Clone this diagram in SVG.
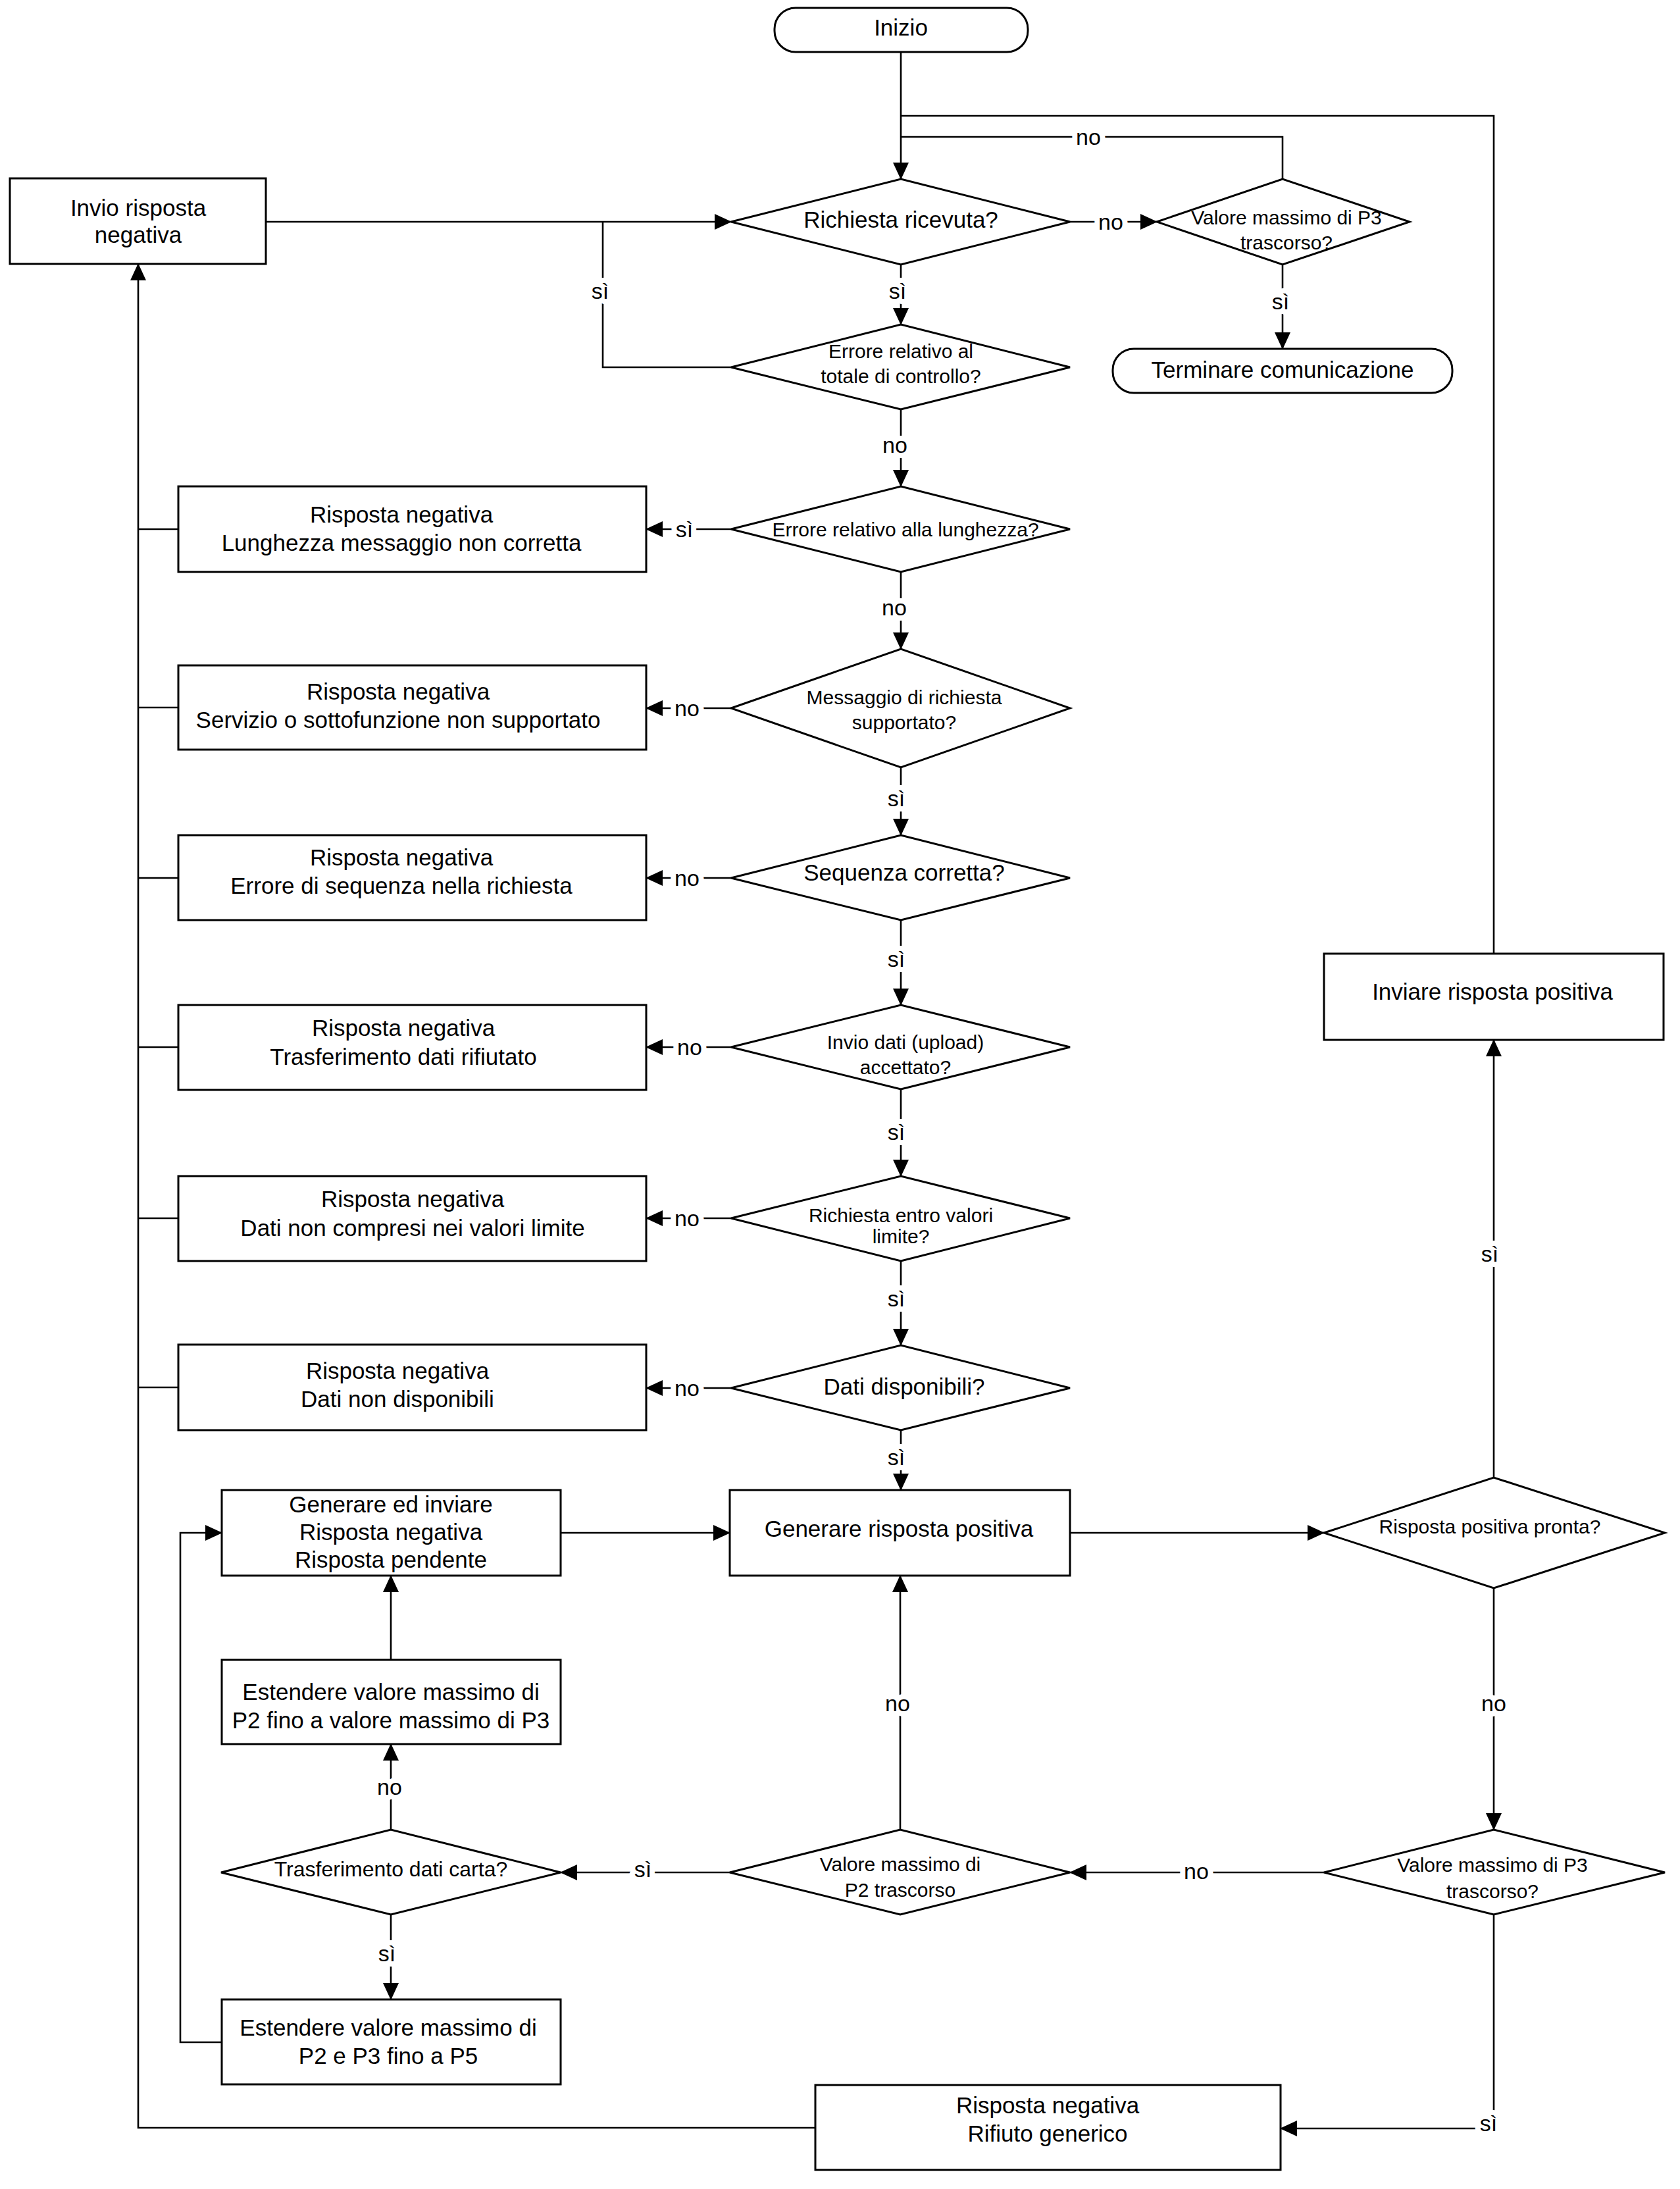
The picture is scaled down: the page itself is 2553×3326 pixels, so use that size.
<svg xmlns="http://www.w3.org/2000/svg" width="2553" height="3326" viewBox="0 0 2553 3326">
<defs>
<marker id="ah" markerUnits="userSpaceOnUse" markerWidth="26" markerHeight="24" refX="25" refY="12" orient="auto"><path d="M0,0 L26,12 L0,24 z" fill="#000"/></marker>
<style>
.box{fill:#fff;stroke:#000;stroke-width:3}
.ln{fill:none;stroke:#000;stroke-width:2.6}
.ar{marker-end:url(#ah)}
.t{font-family:"Liberation Sans",Arial,sans-serif;font-size:35px;text-anchor:middle;dominant-baseline:central;fill:#000}
.s{font-size:30px}
.lb{font-family:"Liberation Sans",Arial,sans-serif;font-size:34px;text-anchor:middle;dominant-baseline:central;fill:#000;stroke:#fff;stroke-width:16px;paint-order:stroke;stroke-linejoin:round}
</style>
</defs>
<rect width="2553" height="3326" fill="#fff"/>
<g id="start"><rect class="box" x="1177" y="12" width="385" height="67" rx="32"/><text class="t" x="1369" y="41">Inizio</text></g>
<g id="invio"><rect class="box" x="15" y="271" width="389" height="130"/><text class="t" x="210" y="315">Invio risposta</text><text class="t" x="210" y="356">negativa</text></g>
<g id="d_ric"><polygon class="box" points="1111,337 1369,272 1626,337 1369,402"/><text class="t" x="1369" y="333">Richiesta ricevuta?</text></g>
<g id="d_p3"><polygon class="box" points="1758,337 1949,272 2142,337 1949,402"/><text class="t s" x="1955" y="330">Valore massimo di P3</text><text class="t s" x="1955" y="368">trascorso?</text></g>
<g id="term"><rect class="box" x="1691" y="530" width="516" height="67" rx="32"/><text class="t" x="1949" y="561">Terminare comunicazione</text></g>
<g id="d_tot"><polygon class="box" points="1111,558 1369,493 1626,558 1369,622"/><text class="t s" x="1369" y="533">Errore relativo al</text><text class="t s" x="1369" y="571">totale di controllo?</text></g>
<g id="d_len"><polygon class="box" points="1111,804 1369,739 1626,804 1369,869"/><text class="t s" x="1376" y="804">Errore relativo alla lunghezza?</text></g>
<g id="b_len"><rect class="box" x="271" y="739" width="711" height="130"/><text class="t" x="610" y="781">Risposta negativa</text><text class="t" x="610" y="824">Lunghezza messaggio non corretta</text></g>
<g id="d_msg"><polygon class="box" points="1111,1076 1369,986 1626,1076 1369,1166"/><text class="t s" x="1374" y="1059">Messaggio di richiesta</text><text class="t s" x="1374" y="1097">supportato?</text></g>
<g id="b_serv"><rect class="box" x="271" y="1011" width="711" height="128"/><text class="t" x="605" y="1050">Risposta negativa</text><text class="t" x="605" y="1093">Servizio o sottofunzione non supportato</text></g>
<g id="d_seq"><polygon class="box" points="1111,1334 1369,1269 1626,1334 1369,1398"/><text class="t" x="1374" y="1325">Sequenza corretta?</text></g>
<g id="b_seq"><rect class="box" x="271" y="1269" width="711" height="129"/><text class="t" x="610" y="1302">Risposta negativa</text><text class="t" x="610" y="1345">Errore di sequenza nella richiesta</text></g>
<g id="d_inv"><polygon class="box" points="1111,1591 1369,1527 1626,1591 1369,1655"/><text class="t s" x="1376" y="1583">Invio dati (upload)</text><text class="t s" x="1376" y="1621">accettato?</text></g>
<g id="b_tra"><rect class="box" x="271" y="1527" width="711" height="129"/><text class="t" x="613" y="1561">Risposta negativa</text><text class="t" x="613" y="1605">Trasferimento dati rifiutato</text></g>
<g id="d_lim"><polygon class="box" points="1111,1851 1369,1787 1626,1851 1369,1916"/><text class="t s" x="1369" y="1846">Richiesta entro valori</text><text class="t s" x="1369" y="1878">limite?</text></g>
<g id="b_lim"><rect class="box" x="271" y="1787" width="711" height="129"/><text class="t" x="627" y="1821">Risposta negativa</text><text class="t" x="627" y="1865">Dati non compresi nei valori limite</text></g>
<g id="d_disp"><polygon class="box" points="1111,2109 1369,2044 1626,2109 1369,2173"/><text class="t" x="1374" y="2106">Dati disponibili?</text></g>
<g id="b_disp"><rect class="box" x="271" y="2043" width="711" height="130"/><text class="t" x="604" y="2082">Risposta negativa</text><text class="t" x="604" y="2125">Dati non disponibili</text></g>
<g id="gen_neg"><rect class="box" x="337" y="2264" width="515" height="130"/><text class="t" x="594" y="2285">Generare ed inviare</text><text class="t" x="594" y="2327">Risposta negativa</text><text class="t" x="594" y="2369">Risposta pendente</text></g>
<g id="gen_pos"><rect class="box" x="1109" y="2264" width="517" height="130"/><text class="t" x="1366" y="2322">Generare risposta positiva</text></g>
<g id="d_pron"><polygon class="box" points="2012,2329 2270,2245 2530,2329 2270,2413"/><text class="t s" x="2264" y="2319">Risposta positiva pronta?</text></g>
<g id="inviare"><rect class="box" x="2012" y="1449" width="516" height="131"/><text class="t" x="2268" y="1506">Inviare risposta positiva</text></g>
<g id="est1"><rect class="box" x="337" y="2522" width="515" height="128"/><text class="t" x="594" y="2570">Estendere valore massimo di</text><text class="t" x="594" y="2613">P2 fino a valore massimo di P3</text></g>
<g id="d_car"><polygon class="box" points="336,2845 594,2780 852,2845 594,2909"/><text class="t" style="font-size:32px" x="594" y="2840">Trasferimento dati carta?</text></g>
<g id="est2"><rect class="box" x="337" y="3038" width="515" height="129"/><text class="t" x="590" y="3080">Estendere valore massimo di</text><text class="t" x="590" y="3123">P2 e P3 fino a P5</text></g>
<g id="d_p2"><polygon class="box" points="1109,2845 1368,2780 1626,2845 1368,2909"/><text class="t s" x="1368" y="2832">Valore massimo di</text><text class="t s" x="1368" y="2871">P2 trascorso</text></g>
<g id="d_p3b"><polygon class="box" points="2012,2845 2270,2780 2530,2845 2270,2909"/><text class="t s" x="2268" y="2833">Valore massimo di P3</text><text class="t s" x="2268" y="2873">trascorso?</text></g>
<g id="rifiuto"><rect class="box" x="1239" y="3168" width="707" height="129"/><text class="t" x="1592" y="3198">Risposta negativa</text><text class="t" x="1592" y="3241">Rifiuto generico</text></g>
<g id="connectors">
<path class="ln ar" d="M1369,79 V272"/>
<path class="ln ar" d="M404,337 H1111"/>
<path class="ln" d="M1111,558 H916 V337"/>
<path class="ln ar" d="M1369,402 V493"/>
<path class="ln ar" d="M1626,337 H1758"/>
<path class="ln" d="M1949,272 V208 H1369"/>
<path class="ln ar" d="M1949,402 V530"/>
<path class="ln ar" d="M1369,622 V739"/>
<path class="ln ar" d="M1111,804 H982"/>
<path class="ln ar" d="M1369,869 V986"/>
<path class="ln ar" d="M1111,1076 H982"/>
<path class="ln ar" d="M1369,1166 V1269"/>
<path class="ln ar" d="M1111,1334 H982"/>
<path class="ln ar" d="M1369,1398 V1527"/>
<path class="ln ar" d="M1111,1591 H982"/>
<path class="ln ar" d="M1369,1655 V1787"/>
<path class="ln ar" d="M1111,1851 H982"/>
<path class="ln ar" d="M1369,1916 V2044"/>
<path class="ln ar" d="M1111,2109 H982"/>
<path class="ln ar" d="M1369,2173 V2264"/>
<path class="ln" d="M210,804 H271 M210,1075 H271 M210,1334 H271 M210,1591 H271 M210,1851 H271 M210,2108 H271"/>
<path class="ln ar" d="M1239,3233 H210 V401"/>
<path class="ln ar" d="M852,2329 H1109"/>
<path class="ln ar" d="M1626,2329 H2012"/>
<path class="ln ar" d="M2270,2245 V1580"/>
<path class="ln" d="M2270,1449 V176 H1369"/>
<path class="ln ar" d="M2270,2413 V2780"/>
<path class="ln ar" d="M2012,2845 H1626"/>
<path class="ln ar" d="M1368,2780 V2394"/>
<path class="ln ar" d="M1109,2845 H852"/>
<path class="ln ar" d="M594,2780 V2650"/>
<path class="ln ar" d="M594,2522 V2394"/>
<path class="ln ar" d="M594,2909 V3038"/>
<path class="ln ar" d="M337,3103 H274 V2329 H337"/>
<path class="ln ar" d="M2270,2909 V3234 H1946"/>
</g>
<g id="labels">
<text class="lb" x="912" y="442">sì</text>
<text class="lb" x="1364" y="442">sì</text>
<text class="lb" x="1688" y="337">no</text>
<text class="lb" x="1654" y="208">no</text>
<text class="lb" x="1946" y="458">sì</text>
<text class="lb" x="1360" y="676">no</text>
<text class="lb" x="1040" y="804">sì</text>
<text class="lb" x="1359" y="923">no</text>
<text class="lb" x="1044" y="1076">no</text>
<text class="lb" x="1362" y="1213">sì</text>
<text class="lb" x="1044" y="1334">no</text>
<text class="lb" x="1362" y="1457">sì</text>
<text class="lb" x="1048" y="1591">no</text>
<text class="lb" x="1362" y="1720">sì</text>
<text class="lb" x="1044" y="1851">no</text>
<text class="lb" x="1362" y="1973">sì</text>
<text class="lb" x="1044" y="2109">no</text>
<text class="lb" x="1362" y="2214">sì</text>
<text class="lb" x="2264" y="1905">sì</text>
<text class="lb" x="2270" y="2588">no</text>
<text class="lb" x="1818" y="2843">no</text>
<text class="lb" x="1364" y="2588">no</text>
<text class="lb" x="977" y="2840">sì</text>
<text class="lb" x="592" y="2715">no</text>
<text class="lb" x="588" y="2968">sì</text>
<text class="lb" x="2262" y="3226">sì</text>
</g>
</svg>
